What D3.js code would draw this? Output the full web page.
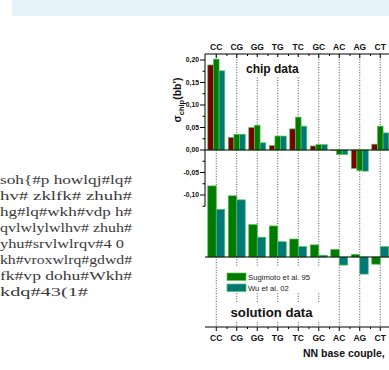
<!DOCTYPE html>
<html>
<head>
<meta charset="utf-8">
<script src="https://cdn.jsdelivr.net/npm/d3@7"></script>
<style>
  html, body { margin: 0; padding: 0; background: #fff; }
  svg { display: block; }
</style>
</head>
<body>
<svg id="fig" width="389" height="370"></svg>
<script>
// Nearest-neighbour base couples along the x axis
const categories = ["CC", "CG", "GG", "TG", "TC", "GC", "AC", "AG", "CT"];

// Upper panel: sigma_chip(bb') from chip data and the two NN models
const chipSeries = ["chip", "Sugimoto et al. 95", "Wu et al. 02"];
const chipMeasured = [0.189, 0.028, 0.050, 0.010, 0.047, 0.009, -0.001, -0.041, 0.013];
const chipSugimoto = [0.202, 0.035, 0.055, 0.031, 0.073, 0.012, -0.010, -0.046, 0.053];
const chipWu       = [0.176, 0.035, 0.016, 0.031, 0.053, 0.012, -0.010, -0.047, 0.038];

// Lower panel: the same couples from solution data
const solutionSeries = ["Sugimoto et al. 95", "Wu et al. 02"];
const solSugimoto = [0.158, 0.136, 0.072, 0.069, 0.040, 0.027, 0.017, 0.006, -0.016];
const solWu       = [0.106, 0.127, 0.044, 0.034, 0.023, 0.004, -0.018, -0.038, 0.023];

// Y axis ticks of the chip panel
const yTicks = [0.20, 0.15, 0.10, 0.05, 0.00, -0.05, -0.10];
const yMinorTicks = [0.175, 0.125, 0.075, 0.025, -0.025, -0.075, -0.125];

// Body text running beside the figure (visible part of each line, its right end)
const bodyLines = [
  { t: "soh{#p howlqj#lq#", end: 132 },
  { t: "hv# zklfk# zhuh#", end: 132 },
  { t: "hg#lq#wkh#vdp h#", end: 132 },
  { t: "qvlwlylwlhv# zhuh#", end: 132 },
  { t: "yhu#srvlwlrqv#4 0", end: 124 },
  { t: "kh#vroxwlrq#gdwd#", end: 132 },
  { t: "fk#vp dohu#Wkh#", end: 132 },
  { t: "kdq#43(1#", end: 88 }
];

const colors = {
  "chip": "#7a0000",
  "Sugimoto et al. 95": "#007a00",
  "Wu et al. 02": "#007878"
};
const barEdge = "#56c456";

const svg = d3.select("#fig");

// light band across the top of the page
svg.append("rect")
  .attr("x", 12).attr("y", 0).attr("width", 377).attr("height", 16)
  .attr("fill", "#e6f3fa");

// body text column, starting at the page edge
const textG = svg.append("g")
  .attr("font-family", "'Liberation Serif', 'DejaVu Serif', serif")
  .attr("font-size", 13)
  .attr("fill", "#3a3a3a");
textG.selectAll("text")
  .data(bodyLines)
  .join("text")
  .attr("x", 0)
  .attr("y", (d, i) => 184 + i * 16)
  .attr("textLength", d => d.end)
  .attr("lengthAdjust", "spacingAndGlyphs")
  .text(d => d.t);

// ---- scales ----
const axisLeft = 205, axisRight = 400;
const topY = 54, bottomY = 327, solBase = 257;

const x = d3.scaleBand()
  .domain(categories)
  .range([206, 206 + 20.5 * categories.length])
  .paddingInner(0.17)
  .paddingOuter(0.085);

const xChip = d3.scaleBand().domain(chipSeries).range([0, x.bandwidth()]);
const xSol = d3.scaleBand().domain(solutionSeries).range([0, x.bandwidth()]);

const y = d3.scaleLinear().domain([-0.125, 0.20]).range([206.25, 60]);
const ySol = d3.scaleLinear().domain([0, 0.10]).range([solBase, solBase - 45]);

const cx = c => x(c) + x.bandwidth() / 2;

// ---- dotted guides at every couple ----
svg.append("g")
  .selectAll("line")
  .data(categories)
  .join("line")
  .attr("x1", cx).attr("x2", cx)
  .attr("y1", topY).attr("y2", bottomY)
  .attr("stroke", "#222")
  .attr("stroke-width", 0.8)
  .attr("stroke-dasharray", "1,1.6");

// ---- chip bars ----
const chipRows = [];
categories.forEach((c, i) => {
  chipRows.push({ c, s: "chip", v: chipMeasured[i] });
  chipRows.push({ c, s: "Sugimoto et al. 95", v: chipSugimoto[i] });
  chipRows.push({ c, s: "Wu et al. 02", v: chipWu[i] });
});
svg.append("g")
  .selectAll("rect")
  .data(chipRows)
  .join("rect")
  .attr("x", d => x(d.c) + xChip(d.s))
  .attr("width", xChip.bandwidth())
  .attr("y", d => Math.min(y(d.v), y(0)))
  .attr("height", d => Math.abs(y(d.v) - y(0)))
  .attr("fill", d => colors[d.s])
  .attr("stroke", barEdge)
  .attr("stroke-width", 0.7);

// ---- solution bars ----
const solRows = [];
categories.forEach((c, i) => {
  solRows.push({ c, s: "Sugimoto et al. 95", v: solSugimoto[i] });
  solRows.push({ c, s: "Wu et al. 02", v: solWu[i] });
});
svg.append("g")
  .selectAll("rect")
  .data(solRows)
  .join("rect")
  .attr("x", d => x(d.c) + xSol(d.s))
  .attr("width", xSol.bandwidth())
  .attr("y", d => Math.min(ySol(d.v), ySol(0)))
  .attr("height", d => Math.abs(ySol(d.v) - ySol(0)))
  .attr("fill", d => colors[d.s])
  .attr("stroke", barEdge)
  .attr("stroke-width", 0.7);

// ---- horizontal reference lines ----
const hline = yy => svg.append("line")
  .attr("x1", axisLeft).attr("x2", axisRight)
  .attr("y1", yy).attr("y2", yy)
  .attr("stroke", "#000").attr("stroke-width", 1);
hline(topY);
hline(y(0));
hline(solBase);
hline(bottomY);

// ---- y axis of the chip panel ----
const fmt = v => d3.format(".2f")(v).replace(".", ",").replace("−", "-");
const yAxis = svg.append("g").attr("transform", `translate(${axisLeft},0)`);
yAxis.append("line")
  .attr("x1", 0).attr("x2", 0)
  .attr("y1", topY).attr("y2", y(-0.125))
  .attr("stroke", "#000").attr("stroke-width", 1);
yAxis.selectAll(".maj")
  .data(yTicks)
  .join("line")
  .attr("x1", -5).attr("x2", 0)
  .attr("y1", d => y(d)).attr("y2", d => y(d))
  .attr("stroke", "#000").attr("stroke-width", 1);
yAxis.selectAll(".mnr")
  .data(yMinorTicks)
  .join("line")
  .attr("x1", -2.5).attr("x2", 0)
  .attr("y1", d => y(d)).attr("y2", d => y(d))
  .attr("stroke", "#000").attr("stroke-width", 1);
yAxis.selectAll("text")
  .data(yTicks)
  .join("text")
  .attr("x", -6)
  .attr("y", d => y(d) + 2.4)
  .attr("text-anchor", "end")
  .attr("font-family", "'Liberation Sans', Arial, sans-serif")
  .attr("font-weight", "bold")
  .attr("font-size", 6.8)
  .attr("fill", "#111")
  .text(fmt);

// ---- top and bottom category axes ----
const catTicks = (yy, dir) => {
  svg.append("g").selectAll("line")
    .data(categories)
    .join("line")
    .attr("x1", cx).attr("x2", cx)
    .attr("y1", yy).attr("y2", yy + dir * 4)
    .attr("stroke", "#000").attr("stroke-width", 1);
  svg.append("g").selectAll("line")
    .data(categories)
    .join("line")
    .attr("x1", c => x(c) + x.step() - x.step() * x.paddingInner() / 2 + 0.5)
    .attr("x2", c => x(c) + x.step() - x.step() * x.paddingInner() / 2 + 0.5)
    .attr("y1", yy).attr("y2", yy + dir * 2)
    .attr("stroke", "#000").attr("stroke-width", 1);
};
catTicks(topY, 1);
catTicks(bottomY, 1);

const catLabels = yy => svg.append("g").selectAll("text")
  .data(categories)
  .join("text")
  .attr("x", cx)
  .attr("y", yy)
  .attr("text-anchor", "middle")
  .attr("font-family", "'Liberation Sans', Arial, sans-serif")
  .attr("font-weight", "bold")
  .attr("font-size", 8.5)
  .attr("fill", "#111")
  .text(d => d);
catLabels(49.5);
catLabels(340.5);

// ---- y axis title: sigma_chip(bb') ----
const yTitle = svg.append("text")
  .attr("transform", "translate(181,100) rotate(-90)")
  .attr("text-anchor", "middle")
  .attr("font-family", "'Liberation Sans', Arial, sans-serif")
  .attr("font-weight", "bold")
  .attr("font-size", 10.5)
  .attr("fill", "#111");
yTitle.append("tspan").text("σ");
yTitle.append("tspan").attr("font-size", 7.5).attr("dy", 2.5).text("chip");
yTitle.append("tspan").attr("dy", -2.5).text("(bb')");

// ---- panel captions on white boxes ----
const caption = (label, x0, yb, size, bx, by, bw, bh) => {
  svg.append("rect").attr("x", bx).attr("y", by).attr("width", bw).attr("height", bh).attr("fill", "#fff");
  svg.append("text")
    .attr("x", x0).attr("y", yb)
    .attr("font-family", "'Liberation Sans', Arial, sans-serif")
    .attr("font-weight", "bold")
    .attr("font-size", size)
    .attr("fill", "#111")
    .text(label);
};
caption("chip data", 246, 73, 12, 241, 57, 62, 19);
caption("solution data", 230.5, 316.5, 13.2, 224, 302, 102, 20);

// ---- legend for the two NN models ----
svg.append("rect").attr("x", 223).attr("y", 266).attr("width", 102).attr("height", 27).attr("fill", "#fff");
const legend = svg.append("g").selectAll("g")
  .data(solutionSeries)
  .join("g")
  .attr("transform", (d, i) => `translate(227,${273 + i * 11})`);
legend.append("rect")
  .attr("width", 19).attr("height", 7.5)
  .attr("fill", d => colors[d])
  .attr("stroke", barEdge).attr("stroke-width", 0.7);
legend.append("text")
  .attr("x", 21).attr("y", 7)
  .attr("font-family", "'Liberation Sans', Arial, sans-serif")
  .attr("font-size", 7.7)
  .attr("fill", "#222")
  .text(d => d);

// ---- x axis title ----
svg.append("text")
  .attr("x", 303).attr("y", 357)
  .attr("font-family", "'Liberation Sans', Arial, sans-serif")
  .attr("font-weight", "bold")
  .attr("font-size", 10.5)
  .attr("fill", "#111")
  .text("NN base couple,");
</script>
</body>
</html>
